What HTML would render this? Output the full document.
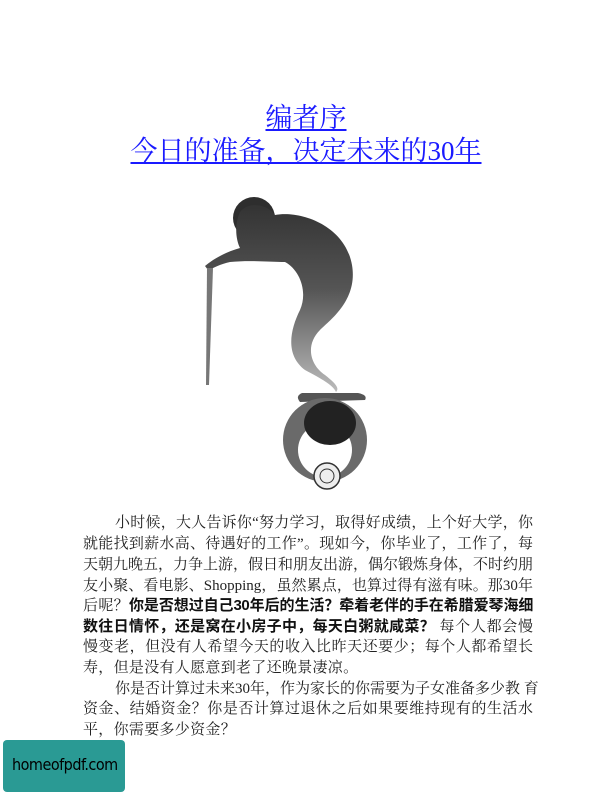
<!DOCTYPE html>
<html><head><meta charset="utf-8">
<style>
html,body{margin:0;padding:0;background:#fff;}
body{width:612px;height:792px;position:relative;overflow:hidden;font-family:"Liberation Serif","Noto Serif CJK SC",serif;}
.title{position:absolute;left:0;width:612px;text-align:center;color:#1a1aff;text-decoration:underline;font-size:27px;line-height:30px;font-family:"Liberation Serif","Noto Serif CJK SC",serif;}
.line{position:absolute;left:83px;width:450px;font-size:15px;line-height:20px;color:#222;text-align:justify;text-align-last:justify;white-space:nowrap;font-family:"Liberation Serif","Noto Serif CJK SC",serif;}
.b{font-weight:bold;font-family:"Liberation Sans","Noto Sans CJK SC",sans-serif;color:#111;letter-spacing:-0.4px;}
.logo{position:absolute;left:3px;top:740px;width:122px;height:52px;background:#2a9a94;border-radius:4px;}
.logo span{position:absolute;left:9px;top:15px;font-family:"DejaVu Sans Condensed","DejaVu Sans",sans-serif;font-size:16px;color:#000;letter-spacing:-0.5px;}
</style></head><body>
<div class="title" style="top:103px">编者序</div>
<div class="title" style="top:136px">今日的准备，决定未来的30年</div>

<svg style="position:absolute;left:0;top:0" width="612" height="792">
<defs>
<linearGradient id="g" x1="0" y1="0" x2="0" y2="1">
<stop offset="0" stop-color="#333"/><stop offset="0.45" stop-color="#555"/><stop offset="1" stop-color="#bbb"/>
</linearGradient>
</defs>
<circle cx="254" cy="218" r="21" fill="#2e2e2e"/>
<path d="M240,212 C250,200 268,205 275,215 C300,210 345,225 352,265 C358,300 330,320 320,330 C305,345 310,365 325,375 C335,383 340,388 336,392 C333,385 320,378 305,370 C285,355 290,330 300,310 C308,292 300,270 285,262 C270,262 250,260 230,262 C220,264 214,268 208,270 L205,266 C212,260 225,252 240,248 C236,240 234,225 240,212 Z" fill="url(#g)"/>
<path d="M207,268 L213,268 L209,385 L206,385 Z" fill="#777"/>
<path d="M302,393 L358,393 Q368,395 365,400 L300,402 Q295,396 302,393 Z" fill="#555"/>
<circle cx="325" cy="440" r="42" fill="#6a6a6a"/>
<circle cx="325" cy="450" r="27" fill="#fff"/>
<ellipse cx="330" cy="423" rx="26" ry="22" fill="#222"/>
<circle cx="327" cy="476" r="13" fill="#eee" stroke="#333" stroke-width="1.5"/>
<circle cx="327" cy="476" r="7" fill="none" stroke="#333"/>
</svg>

<div class="line" style="top:513px;left:115px;width:418px">小时候，大人告诉你“努力学习，取得好成绩，上个好大学，你</div>
<div class="line" style="top:534px">就能找到薪水高、待遇好的工作”。现如今，你毕业了，工作了，每</div>
<div class="line" style="top:555px">天朝九晚五，力争上游，假日和朋友出游，偶尔锻炼身体，不时约朋</div>
<div class="line" style="top:576px">友小聚、看电影、Shopping，虽然累点，也算过得有滋有味。那30年</div>
<div class="line" style="top:596px">后呢？<span class="b">你是否想过自己30年后的生活？牵着老伴的手在希腊爱琴海细</span></div>
<div class="line" style="top:617px"><span class="b">数往日情怀，还是窝在小房子中，每天白粥就咸菜？</span> 每个人都会慢</div>
<div class="line" style="top:637px">慢变老，但没有人希望今天的收入比昨天还要少；每个人都希望长</div>
<div class="line" style="top:658px;text-align-last:left;letter-spacing:0.3px">寿，但是没有人愿意到老了还晚景凄凉。</div>
<div class="line" style="top:679px;left:115px;width:418px">你是否计算过未来30年，作为家长的你需要为子女准备多少教 育</div>
<div class="line" style="top:699px">资金、结婚资金？你是否计算过退休之后如果要维持现有的生活水</div>
<div class="line" style="top:720px;text-align-last:left;letter-spacing:0.3px">平，你需要多少资金？</div>

<div class="logo"><span>homeofpdf.com</span></div>
</body></html>
